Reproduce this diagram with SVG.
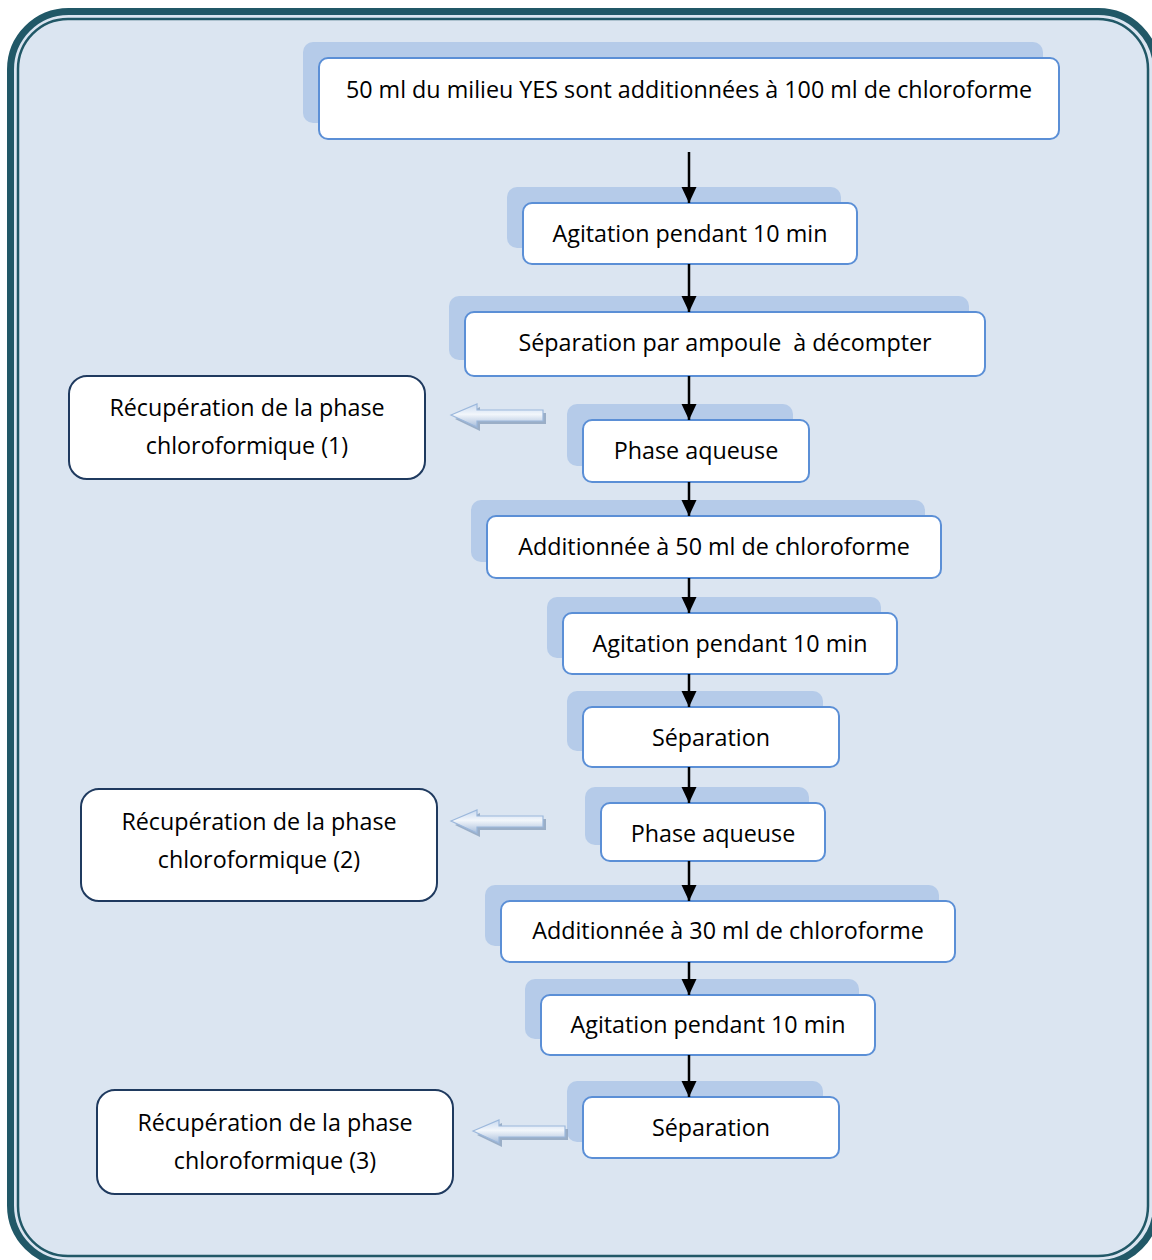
<svg xmlns="http://www.w3.org/2000/svg" width="1152" height="1260" viewBox="0 0 1152 1260">
<style>
.shadow{fill:#b5cbe9}
.box{fill:#fff;stroke:#5b8fd6;stroke-width:2}
.lbox{fill:#fff;stroke:#1f3a5f;stroke-width:2}
.t{font-family:"Open Sans","Liberation Sans",sans-serif;font-size:23.3px;fill:#000;text-anchor:middle;white-space:pre}
.conn{stroke:#000;stroke-width:2.5;fill:none;marker-end:url(#ah)}
.barrow{fill:url(#bg);stroke:#9cb8dc;stroke-width:1.2}
.bshadow{fill:#8ea4bf;opacity:0.85}
</style>
<defs>
<marker id="ah" markerWidth="16" markerHeight="16" refX="16" refY="7.5" orient="auto" markerUnits="userSpaceOnUse" overflow="visible">
<path d="M0,0 L16,7.5 L0,15 Z" fill="#000"/>
</marker>
<linearGradient id="bg" x1="0" y1="0" x2="0" y2="1">
<stop offset="0" stop-color="#c9daf0"/>
<stop offset="0.45" stop-color="#f2f6fb"/>
<stop offset="1" stop-color="#a8bedb"/>
</linearGradient>
</defs>
<rect x="0" y="0" width="1152" height="1260" fill="#fff"/>
<rect x="10.5" y="11.5" width="1146" height="1252" rx="58" fill="#dbe5f1" stroke="#215867" stroke-width="7"/>
<rect x="18" y="19" width="1130" height="1237" rx="50" fill="none" stroke="#215867" stroke-width="2.5"/>

<g id="n1">
<rect class="shadow" x="303" y="42" width="740" height="81" rx="10"/>
<rect class="box" x="319" y="58" width="740" height="81" rx="9"/>
<text class="t" x="689" y="98">50 ml du milieu YES sont additionnées à 100 ml de chloroforme</text>
</g>
<g id="n2">
<rect class="shadow" x="507" y="187" width="334" height="61" rx="10"/>
<rect class="box" x="523" y="203" width="334" height="61" rx="9"/>
<text class="t" x="690" y="242">Agitation pendant 10 min</text>
</g>
<g id="n3">
<rect class="shadow" x="449" y="296" width="520" height="64" rx="10"/>
<rect class="box" x="465" y="312" width="520" height="64" rx="9"/>
<text class="t" x="725" y="351" xml:space="preserve">Séparation par ampoule  à décompter</text>
</g>
<g id="n4">
<rect class="shadow" x="567" y="404" width="226" height="62" rx="10"/>
<rect class="box" x="583" y="420" width="226" height="62" rx="9"/>
<text class="t" x="696" y="459">Phase aqueuse</text>
</g>
<g id="n5">
<rect class="shadow" x="471" y="500" width="454" height="62" rx="10"/>
<rect class="box" x="487" y="516" width="454" height="62" rx="9"/>
<text class="t" x="714" y="555">Additionnée à 50 ml de chloroforme</text>
</g>
<g id="n6">
<rect class="shadow" x="547" y="597" width="334" height="61" rx="10"/>
<rect class="box" x="563" y="613" width="334" height="61" rx="9"/>
<text class="t" x="730" y="652">Agitation pendant 10 min</text>
</g>
<g id="n7">
<rect class="shadow" x="567" y="691" width="256" height="60" rx="10"/>
<rect class="box" x="583" y="707" width="256" height="60" rx="9"/>
<text class="t" x="711" y="746">Séparation</text>
</g>
<g id="n8">
<rect class="shadow" x="585" y="787" width="224" height="58" rx="10"/>
<rect class="box" x="601" y="803" width="224" height="58" rx="9"/>
<text class="t" x="713" y="842">Phase aqueuse</text>
</g>
<g id="n9">
<rect class="shadow" x="485" y="885" width="454" height="61" rx="10"/>
<rect class="box" x="501" y="901" width="454" height="61" rx="9"/>
<text class="t" x="728" y="939">Additionnée à 30 ml de chloroforme</text>
</g>
<g id="n10">
<rect class="shadow" x="525" y="979" width="334" height="60" rx="10"/>
<rect class="box" x="541" y="995" width="334" height="60" rx="9"/>
<text class="t" x="708" y="1033">Agitation pendant 10 min</text>
</g>
<g id="n11">
<rect class="shadow" x="567" y="1081" width="256" height="61" rx="10"/>
<rect class="box" x="583" y="1097" width="256" height="61" rx="9"/>
<text class="t" x="711" y="1136">Séparation</text>
</g>

<g id="l1">
<rect class="lbox" x="69" y="376" width="356" height="103" rx="18"/>
<text class="t" x="247" y="416">Récupération de la phase</text>
<text class="t" x="247" y="454">chloroformique (1)</text>
</g>
<g id="l2">
<rect class="lbox" x="81" y="789" width="356" height="112" rx="18"/>
<text class="t" x="259" y="830">Récupération de la phase</text>
<text class="t" x="259" y="868">chloroformique (2)</text>
</g>
<g id="l3">
<rect class="lbox" x="97" y="1090" width="356" height="104" rx="18"/>
<text class="t" x="275" y="1131">Récupération de la phase</text>
<text class="t" x="275" y="1169">chloroformique (3)</text>
</g>

<g id="connectors">
<line class="conn" x1="689" y1="152" x2="689" y2="203"/>
<line class="conn" x1="689" y1="264" x2="689" y2="312"/>
<line class="conn" x1="689" y1="376" x2="689" y2="420"/>
<line class="conn" x1="689" y1="482" x2="689" y2="516"/>
<line class="conn" x1="689" y1="578" x2="689" y2="613"/>
<line class="conn" x1="689" y1="674" x2="689" y2="707"/>
<line class="conn" x1="689" y1="767" x2="689" y2="803"/>
<line class="conn" x1="689" y1="861" x2="689" y2="901"/>
<line class="conn" x1="689" y1="962" x2="689" y2="995"/>
<line class="conn" x1="689" y1="1055" x2="689" y2="1097"/>
<g id="barrow1">
<path class="bshadow" d="M455,419 L480,407 L480,413 L546,413 L546,424 L480,424 L480,431 Z"/>
<path class="barrow" d="M451,415 L477,404 L477,410 L543,410 L543,421 L477,421 L477,427 Z"/>
</g>
<g id="barrow2">
<path class="bshadow" d="M455,825 L480,813 L480,819 L546,819 L546,830 L480,830 L480,837 Z"/>
<path class="barrow" d="M451,821 L477,810 L477,816 L543,816 L543,827 L477,827 L477,833 Z"/>
</g>
<g id="barrow3">
<path class="bshadow" d="M477,1135 L502,1123 L502,1129 L568,1129 L568,1140 L502,1140 L502,1147 Z"/>
<path class="barrow" d="M473,1131 L499,1120 L499,1126 L565,1126 L565,1137 L499,1137 L499,1143 Z"/>
</g>
</g>
</svg>
